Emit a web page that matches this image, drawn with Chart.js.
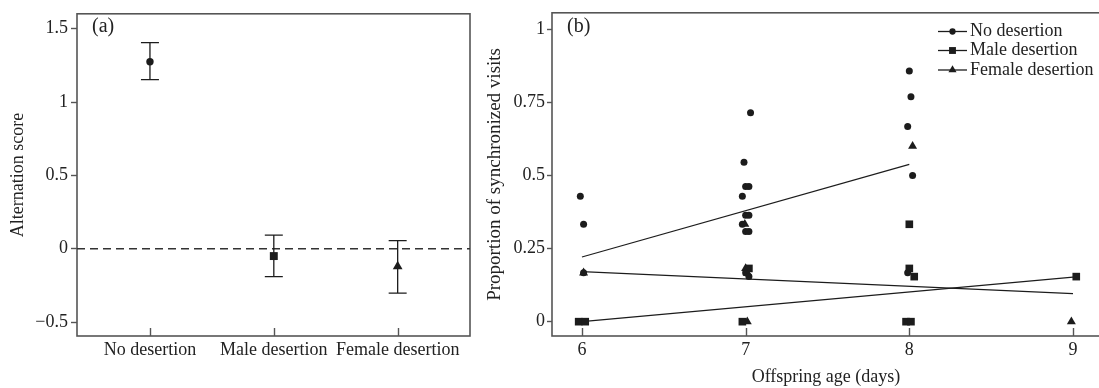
<!DOCTYPE html>
<html>
<head>
<meta charset="utf-8">
<script src="https://cdn.jsdelivr.net/npm/chart.js@4.4.1/dist/chart.umd.min.js"></script>
<style>
	html, body { margin: 0; padding: 0; background: #fff; overflow: hidden; }
	body { width: 1099px; height: 388px; position: relative; }
	#wrapA { position: absolute; left: 0; top: 0; width: 480px; height: 388px; }
	#wrapB { position: absolute; left: 480px; top: 0; width: 630px; height: 388px; }
</style>
</head>
<body>
<div id="wrapA"><canvas id="chartA" width="480" height="388"></canvas></div>
<div id="wrapB"><canvas id="chartB" width="630" height="388"></canvas></div>
<script>
// Panel (a): alternation score (mean with error bars)
const groups = ["No desertion", "Male desertion", "Female desertion"];
const groupStyles = ["circle", "rect", "triangle"];
const scoreMean = [1.275, -0.05, -0.12];
const scoreLow = [1.153, -0.19, -0.303];
const scoreHigh = [1.406, 0.093, 0.056];
const scoreTicks = [-0.5, 0, 0.5, 1, 1.5];
const scoreTickLabels = ["\u22120.5", "0", "0.5", "1", "1.5"];

// Panel (b): proportion of synchronized visits vs offspring age
const ageNo = [5.99, 6.01, 6.01, 7.03, 6.99, 7.0, 7.02, 6.98, 7.0, 7.02, 6.98, 7.0, 7.02, 7.0, 7.02, 8.0, 8.01, 7.99, 8.02, 7.99];
const syncNo = [0.429, 0.333, 0.167, 0.714, 0.545, 0.462, 0.462, 0.429, 0.364, 0.364, 0.333, 0.308, 0.308, 0.167, 0.154, 0.857, 0.769, 0.667, 0.5, 0.167];
const ageMale = [5.98, 6.02, 6.98, 7.02, 8.0, 8.0, 8.03, 7.98, 8.01, 9.02];
const syncMale = [0, 0, 0, 0.182, 0.333, 0.182, 0.154, 0, 0, 0.154];
const ageFemale = [6.01, 6.995, 7.0, 7.01, 7.01, 8.02, 8.99];
const syncFemale = [0.167, 0.333, 0.182, 0.167, 0, 0.6, 0];
const fitNoAge = [6, 8];
const fitNo = [0.221, 0.538];
const fitMaleAge = [6, 9];
const fitMale = [0, 0.152];
const fitFemaleAge = [6, 9];
const fitFemale = [0.171, 0.096];
const ageTicks = [6, 7, 8, 9];
const propTicks = [0, 0.25, 0.5, 0.75, 1];
const propTickLabels = ["0", "0.25", "0.5", "0.75", "1"];

const ink = "#1c1c1c";
const frameColor = "#555";

Chart.defaults.font.family = '"Liberation Serif", "Times New Roman", serif';
Chart.defaults.font.size = 18;
Chart.defaults.color = "#222";

function zip(xs, ys) {
	return xs.map(function (x, i) {
		return { x: x, y: ys[i] };
	});
}

// frame round the plot area, inward ticks on x, panel letter
function framePlugin(letter) {
	return {
		id: "frame",
		beforeDatasetsDraw: function (chart) {
			const a = chart.chartArea;
			const ctx = chart.ctx;
			const xs = chart.scales.x;
			ctx.save();
			ctx.strokeStyle = frameColor;
			ctx.lineWidth = 1.6;
			ctx.strokeRect(a.left, a.top, a.right - a.left, a.bottom - a.top);
			ctx.lineWidth = 1.4;
			xs.ticks.forEach(function (t) {
				const px = Math.round(xs.getPixelForValue(t.value)) + 0.5;
				ctx.beginPath();
				ctx.moveTo(px, a.bottom);
				ctx.lineTo(px, a.bottom - 8);
				ctx.stroke();
			});
			ctx.fillStyle = "#222";
			ctx.font = '20px "Liberation Serif", serif';
			ctx.textBaseline = "middle";
			ctx.textAlign = "left";
			ctx.fillText(letter, a.left + 15, 27);
			ctx.restore();
		},
	};
}

const errorBars = {
	id: "errorBars",
	beforeDatasetsDraw: function (chart) {
		const ctx = chart.ctx;
		const xs = chart.scales.x;
		const ys = chart.scales.y;
		const a = chart.chartArea;
		ctx.save();
		// dashed zero line
		ctx.strokeStyle = "#333";
		ctx.lineWidth = 1.3;
		ctx.setLineDash([8, 5]);
		const y0 = ys.getPixelForValue(0);
		ctx.beginPath();
		ctx.moveTo(a.left, y0);
		ctx.lineTo(a.right, y0);
		ctx.stroke();
		ctx.setLineDash([]);
		ctx.strokeStyle = ink;
		groups.forEach(function (g, i) {
			const px = xs.getPixelForValue(i);
			const top = ys.getPixelForValue(scoreHigh[i]);
			const bot = ys.getPixelForValue(scoreLow[i]);
			ctx.beginPath();
			ctx.moveTo(px, top);
			ctx.lineTo(px, bot);
			ctx.moveTo(px - 9, top);
			ctx.lineTo(px + 9, top);
			ctx.moveTo(px - 9, bot);
			ctx.lineTo(px + 9, bot);
			ctx.stroke();
		});
		ctx.restore();
	},
};

const legendB = {
	id: "legendB",
	afterDatasetsDraw: function (chart) {
		const ctx = chart.ctx;
		const rows = [31.5, 50.5, 70];
		const lineX0 = 458;
		const lineX1 = 487;
		ctx.save();
		for (let i = 0; i < 3; i++) {
			const ds = chart.data.datasets[i];
			const y = rows[i];
			ctx.strokeStyle = ink;
			ctx.lineWidth = 1.3;
			ctx.beginPath();
			ctx.moveTo(lineX0, y);
			ctx.lineTo(lineX1, y);
			ctx.stroke();
			ctx.fillStyle = ink;
			Chart.helpers.drawPoint(ctx, { pointStyle: ds.pointStyle, radius: ds.pointRadius * 0.9, rotation: 0, borderWidth: 0 }, (lineX0 + lineX1) / 2, y);
			ctx.fillStyle = "#222";
			ctx.font = '18px "Liberation Serif", serif';
			ctx.textBaseline = "middle";
			ctx.textAlign = "left";
			ctx.fillText(ds.label, lineX1 + 3, y);
		}
		ctx.restore();
	},
};

function pointSet(label, data, style, radius) {
	return {
		label: label,
		data: data,
		pointStyle: style,
		pointRadius: radius,
		pointHoverRadius: radius,
		pointBackgroundColor: ink,
		pointBorderColor: ink,
		pointBorderWidth: 0,
		clip: false,
	};
}

function fitSet(data) {
	return {
		label: "",
		data: data,
		showLine: true,
		borderColor: ink,
		borderWidth: 1.2,
		pointRadius: 0,
		clip: false,
	};
}

// Panel (a)
const markerRadiusA = [3.7, 5.6, 5.6];
new Chart(document.getElementById("chartA"), {
	type: "scatter",
	data: {
		datasets: groups.map(function (g, i) {
			return pointSet(g, [{ x: i, y: scoreMean[i] }], groupStyles[i], markerRadiusA[i]);
		}),
	},
	options: {
		responsive: false,
		animation: false,
		devicePixelRatio: 1,
		layout: { padding: { left: 0, right: 10, top: 12, bottom: 0 } },
		plugins: { legend: { display: false }, tooltip: { enabled: false } },
		scales: {
			x: {
				type: "linear",
				min: -0.589,
				max: 2.584,
				afterBuildTicks: function (scale) {
					scale.ticks = groups.map(function (g, i) {
						return { value: i };
					});
				},
				afterFit: function (scale) {
					scale.height = 52;
				},
				ticks: {
					autoSkip: false,
					maxRotation: 0,
					padding: 3,
					callback: function (v, i) {
						return groups[i];
					},
				},
				grid: { display: false, drawTicks: false },
				border: { display: false },
			},
			y: {
				min: -0.595,
				max: 1.602,
				afterBuildTicks: function (scale) {
					scale.ticks = scoreTicks.map(function (v) {
						return { value: v };
					});
				},
				afterFit: function (scale) {
					scale.width = 77;
				},
				ticks: {
					padding: 3,
					callback: function (v, i) {
						return scoreTickLabels[i];
					},
				},
				grid: { drawOnChartArea: false, tickLength: 6, tickColor: frameColor, tickWidth: 1.4 },
				border: { display: false },
				title: { display: true, text: "Alternation score", padding: { top: 7, bottom: 0 } },
			},
		},
	},
	plugins: [framePlugin("(a)"), errorBars],
});

// Panel (b)
new Chart(document.getElementById("chartB"), {
	type: "scatter",
	data: {
		datasets: [
			pointSet("No desertion", zip(ageNo, syncNo), "circle", 3.5),
			pointSet("Male desertion", zip(ageMale, syncMale), "rect", 5.4),
			pointSet("Female desertion", zip(ageFemale, syncFemale), "triangle", 5.2),
			fitSet(zip(fitNoAge, fitNo)),
			fitSet(zip(fitMaleAge, fitMale)),
			fitSet(zip(fitFemaleAge, fitFemale)),
		],
	},
	options: {
		responsive: false,
		animation: false,
		devicePixelRatio: 1,
		layout: { padding: { left: 0, right: 10, top: 12, bottom: 0 } },
		plugins: { legend: { display: false }, tooltip: { enabled: false } },
		scales: {
			x: {
				type: "linear",
				min: 5.817,
				max: 9.165,
				afterBuildTicks: function (scale) {
					scale.ticks = ageTicks.map(function (v) {
						return { value: v };
					});
				},
				afterFit: function (scale) {
					scale.height = 52;
				},
				ticks: { autoSkip: false, maxRotation: 0, padding: 3 },
				grid: { display: false, drawTicks: false },
				border: { display: false },
				title: { display: true, text: "Offspring age (days)", padding: { top: 0, bottom: 0 } },
			},
			y: {
				min: -0.049,
				max: 1.056,
				afterBuildTicks: function (scale) {
					scale.ticks = propTicks.map(function (v) {
						return { value: v };
					});
				},
				afterFit: function (scale) {
					scale.width = 72;
				},
				ticks: {
					padding: 2,
					callback: function (v, i) {
						return propTickLabels[i];
					},
				},
				grid: { drawOnChartArea: false, tickLength: 5, tickColor: frameColor, tickWidth: 1.4 },
				border: { display: false },
				title: { display: true, text: "Proportion of synchronized visits", font: { size: 19 }, padding: { top: 4, bottom: 0 } },
			},
		},
	},
	plugins: [framePlugin("(b)"), legendB],
});
</script>
</body>
</html>
